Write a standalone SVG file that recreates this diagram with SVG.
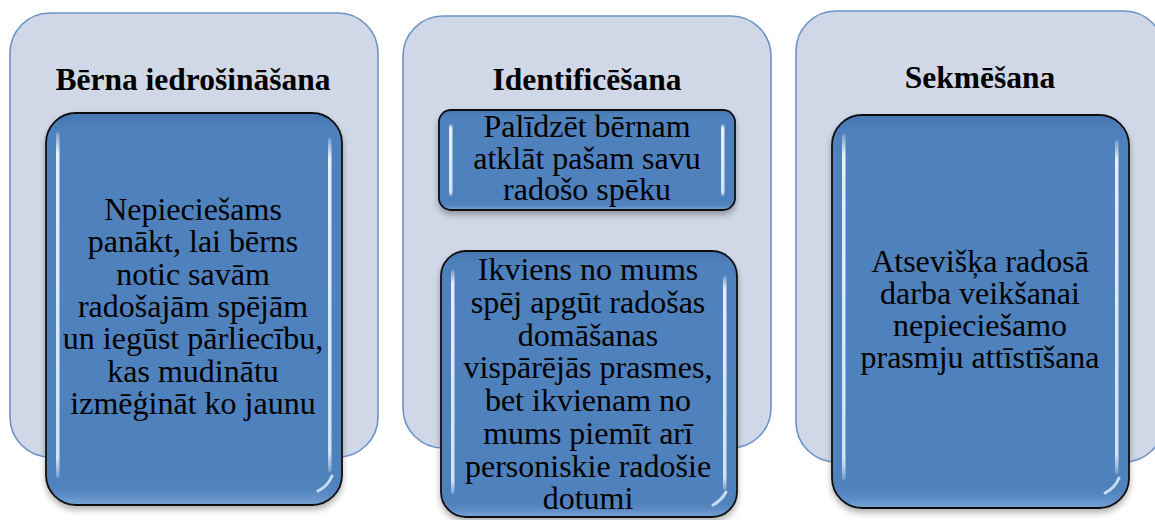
<svg xmlns="http://www.w3.org/2000/svg" width="1155" height="520" viewBox="0 0 1155 520">
<defs>
<style>
.panel{fill:#D0D8E8;stroke:#6B93C7;stroke-width:1.6}
.box{fill:#4F81BD;stroke:#111;stroke-width:1.8}
.shine{fill:url(#shineG)}
.hl{fill:url(#hlG)}
.title{font-family:"Liberation Serif","Times New Roman",serif;font-weight:bold;font-size:31.5px;fill:#000;text-anchor:middle}
.body{font-family:"Liberation Serif","Times New Roman",serif;font-size:32px;fill:#000;text-anchor:middle}
</style>
<linearGradient id="shineG" x1="0" y1="0" x2="0" y2="1">
<stop offset="0" stop-color="#3E6EA8" stop-opacity="0.55"/>
<stop offset="0.06" stop-color="#4F81BD" stop-opacity="0"/>
<stop offset="0.94" stop-color="#4F81BD" stop-opacity="0"/>
<stop offset="1" stop-color="#9CC0EA" stop-opacity="0.5"/>
</linearGradient>
<linearGradient id="hlG" x1="0" y1="0" x2="0" y2="1">
<stop offset="0" stop-color="#FFFFFF" stop-opacity="0.2"/>
<stop offset="0.06" stop-color="#EEF6FF" stop-opacity="0.95"/>
<stop offset="0.94" stop-color="#D6E8FC" stop-opacity="0.95"/>
<stop offset="1" stop-color="#FFFFFF" stop-opacity="0.2"/>
</linearGradient>
<filter id="sh" x="-10%" y="-10%" width="120%" height="125%">
<feDropShadow dx="0" dy="4" stdDeviation="3" flood-color="#000" flood-opacity="0.3"/>
</filter>
</defs>

<g id="panel-1">
<rect class="panel" x="10" y="13" width="368" height="444" rx="40" ry="40"/>
<text class="title" x="193" y="90">Bērna iedrošināšana</text>
</g>
<g id="panel-2">
<rect class="panel" x="403" y="16" width="368" height="432" rx="40" ry="40"/>
<text class="title" x="587" y="90">Identificēšana</text>
</g>
<g id="panel-3">
<rect class="panel" x="796" y="11" width="368" height="451" rx="40" ry="40"/>
<text class="title" x="980" y="88">Sekmēšana</text>
</g>

<g id="box-1">
<rect class="box" x="46" y="113" width="296" height="392" rx="30" ry="30" filter="url(#sh)"/>
<rect class="shine" x="47" y="114" width="294" height="390" rx="29" ry="29"/>
<rect class="hl" x="56" y="132" width="3.5" height="346" rx="1.7"/>
<rect class="hl" x="328" y="138" width="3.5" height="334" rx="1.7"/>
<path d="M318 491 Q328 486 332 476" fill="none" stroke="#E6F1FF" stroke-width="3" stroke-linecap="round" opacity="0.8"/>
<text class="body" x="193" y="220">Nepieciešams</text>
<text class="body" x="193" y="252.3">panākt, lai bērns</text>
<text class="body" x="193" y="284.6">notic savām</text>
<text class="body" x="193" y="316.9">radošajām spējām</text>
<text class="body" x="193" y="349.2">un iegūst pārliecību,</text>
<text class="body" x="193" y="381.5">kas mudinātu</text>
<text class="body" x="193" y="413.8">izmēģināt ko jaunu</text>
</g>

<g id="box-2a">
<rect class="box" x="439" y="110" width="296" height="100" rx="12" ry="12" filter="url(#sh)"/>
<rect class="shine" x="440" y="111" width="294" height="98" rx="11" ry="11"/>
<rect class="hl" x="449" y="124" width="3.5" height="72" rx="1.7"/>
<rect class="hl" x="721" y="124" width="3.5" height="72" rx="1.7"/>
<text class="body" x="587" y="137">Palīdzēt bērnam</text>
<text class="body" x="587" y="168.5">atklāt pašam savu</text>
<text class="body" x="587" y="200">radošo spēku</text>
</g>

<g id="box-2b">
<rect class="box" x="441" y="251" width="296" height="266" rx="25" ry="25" filter="url(#sh)"/>
<rect class="shine" x="442" y="252" width="294" height="264" rx="24" ry="24"/>
<rect class="hl" x="451" y="270" width="3.5" height="224" rx="1.7"/>
<rect class="hl" x="723" y="276" width="3.5" height="214" rx="1.7"/>
<path d="M713 505 Q722 500 726 492" fill="none" stroke="#E6F1FF" stroke-width="3" stroke-linecap="round" opacity="0.8"/>
<text class="body" x="588" y="280">Ikviens no mums</text>
<text class="body" x="588" y="313">spēj apgūt radošas</text>
<text class="body" x="588" y="345.5">domāšanas</text>
<text class="body" x="588" y="378">vispārējās prasmes,</text>
<text class="body" x="588" y="411">bet ikvienam no</text>
<text class="body" x="588" y="443.5">mums piemīt arī</text>
<text class="body" x="588" y="476.5">personiskie radošie</text>
<text class="body" x="588" y="509">dotumi</text>
</g>

<g id="box-3">
<rect class="box" x="832" y="115" width="297" height="393" rx="30" ry="30" filter="url(#sh)"/>
<rect class="shine" x="833" y="116" width="295" height="391" rx="29" ry="29"/>
<rect class="hl" x="842" y="134" width="3.5" height="346" rx="1.7"/>
<rect class="hl" x="1115" y="140" width="3.5" height="334" rx="1.7"/>
<path d="M1105 493 Q1115 488 1119 478" fill="none" stroke="#E6F1FF" stroke-width="3" stroke-linecap="round" opacity="0.8"/>
<text class="body" x="980" y="272">Atsevišķa radosā</text>
<text class="body" x="980" y="304">darba veikšanai</text>
<text class="body" x="980" y="336">nepieciešamo</text>
<text class="body" x="980" y="368">prasmju attīstīšana</text>
</g>

<g id="connectors"/>
</svg>
